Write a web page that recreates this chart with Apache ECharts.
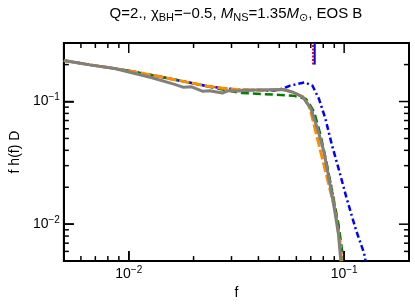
<!DOCTYPE html>
<html><head><meta charset="utf-8">
<script src="https://cdn.jsdelivr.net/npm/echarts/dist/echarts.min.js"></script>
<style>html,body{margin:0;padding:0;background:#fff}#c{width:415px;height:305px}#m{position:absolute;left:-2000px;top:0;width:415px;height:305px}#d{position:absolute;left:60px;top:150px;font:9px monospace;color:#c00;width:340px;word-break:break-all}</style>
</head><body><div id="c"></div><div id="m"></div><div id="d"></div>
<script>
// ---- data ----
const orangeF = [0.005, 0.0066, 0.0081, 0.01, 0.0136, 0.0186, 0.0229, 0.0266, 0.032, 0.0425, 0.052, 0.058, 0.0643, 0.0686, 0.0701, 0.0738, 0.0791, 0.0848, 0.0908, 0.0956, 0.0972];
const orangeV = [0.216, 0.199, 0.189, 0.178, 0.161, 0.144, 0.134, 0.129, 0.125, 0.1235, 0.125, 0.119, 0.109, 0.0929, 0.0822, 0.0568, 0.0347, 0.0212, 0.013, 0.0070, 0.0050];

const redF = [0.005, 0.0066, 0.0081, 0.01, 0.0136, 0.0186, 0.0229, 0.0266, 0.032, 0.0425, 0.052, 0.058, 0.0643, 0.0713, 0.0791, 0.0877, 0.0943, 0.0983];
const redV = [0.216, 0.199, 0.189, 0.178, 0.161, 0.144, 0.134, 0.129, 0.125, 0.1235, 0.125, 0.119, 0.109, 0.0827, 0.0444, 0.0199, 0.0095, 0.0050];

const greenF = [0.005, 0.0066, 0.0081, 0.01, 0.0136, 0.0186, 0.0229, 0.0254, 0.0334, 0.0472, 0.058, 0.0665, 0.0689, 0.0726, 0.0777, 0.0832, 0.0877, 0.094, 0.098, 0.0993];
const greenV = [0.216, 0.199, 0.189, 0.178, 0.161, 0.144, 0.134, 0.128, 0.1174, 0.1138, 0.1117, 0.1051, 0.0958, 0.0822, 0.0533, 0.0306, 0.0187, 0.0101, 0.0060, 0.0050];

const blueF = [0.005, 0.0066, 0.0081, 0.01, 0.0136, 0.0186, 0.0229, 0.0266, 0.032, 0.0425, 0.0472, 0.0523, 0.0562, 0.0655, 0.0713, 0.0764, 0.0818, 0.0877, 0.094, 0.1024, 0.1135, 0.1237, 0.1258];
const blueV = [0.216, 0.199, 0.189, 0.178, 0.161, 0.144, 0.134, 0.129, 0.125, 0.1235, 0.1225, 0.128, 0.1349, 0.1431, 0.1344, 0.1051, 0.0726, 0.0444, 0.0288, 0.01656, 0.00895, 0.00581, 0.0050];

const grayF = [0.005, 0.0066, 0.0086, 0.01, 0.0127, 0.0162, 0.018, 0.0196, 0.0221, 0.0237, 0.0272, 0.0291, 0.0323, 0.0384, 0.0523, 0.058, 0.0643, 0.0701, 0.0751, 0.0805, 0.0848, 0.0893, 0.094, 0.0965];
const grayV = [0.216, 0.199, 0.186, 0.174, 0.157, 0.1387, 0.1305, 0.1319, 0.1212, 0.1225, 0.1174, 0.1225, 0.1218, 0.1241, 0.1253, 0.119, 0.1085, 0.0874, 0.0604, 0.0393, 0.024, 0.0146, 0.0084, 0.0050];

// short vertical markers at the top
const markerRedF = [0.0717, 0.0717];
const markerBlueF = [0.0730, 0.0730];
const markerV = [0.2, 0.3];

// axes
const xRange = [0.005, 0.2];
const yRange = [0.005, 0.3];
const xMajorTicks = [0.01, 0.1];
const yMajorTicks = [0.01, 0.1];
const xMinorTicks = [0.006, 0.007, 0.008, 0.009, 0.02, 0.03, 0.04, 0.05, 0.06, 0.07, 0.08, 0.09];
const yMinorTicks = [0.006, 0.007, 0.008, 0.009, 0.02, 0.03, 0.04, 0.05, 0.06, 0.07, 0.08, 0.09, 0.2];

const titleText = 'Q=2., χ{sub|BH}=−0.5, {it|M}{sub|NS}=1.35{it|M}{sub|⊙}, EOS B';
const xName = 'f';
const yName = 'f h(f) D';

// ---- chart ----
const dbg = m => { const d = document.getElementById('d'); if (d.textContent.length < 600) d.textContent += m + ' | '; };
window.onerror = (m) => dbg('ERR ' + m);
try {
const FONT = '"Liberation Sans", Arial, "DejaVu Sans", sans-serif';
const zip = (a, b) => a.map((v, i) => [v, b[i]]);
const powLabel = v => {
  const e = Math.log10(v), r = Math.round(e);
  if (Math.abs(e - r) > 1e-6) return '';
  return '10{sup|' + (r < 0 ? '−' : '') + Math.abs(r) + '}';
};
const supRich = { sup: { fontSize: 10, fontFamily: FONT, color: '#000', padding: [0, 0, 8, 0] } };

function lineSeries(f, v, color, width, type) {
  return { type: 'line', data: zip(f, v), showSymbol: false, lineStyle: { color, width, type } };
}

const axisCommon = {
  type: 'log', logBase: 10,
  axisLine: { show: true, onZero: false, lineStyle: { color: '#000', width: 2 } },
  axisTick: { show: true, inside: true, length: 10, lineStyle: { color: '#000', width: 1.5 } },
  splitLine: { show: false }, minorTick: { show: false }, minorSplitLine: { show: false }
};
const labelCommon = { show: true, fontSize: 14, color: '#000', fontFamily: FONT, formatter: powLabel, rich: supRich, showMinLabel: false, showMaxLabel: false };

const gridOpt = { left: 52, right: 6, top: 43, bottom: 41, show: true, borderColor: '#000', borderWidth: 2 };
const xAxisOpt = Object.assign({}, axisCommon, {
  position: 'bottom', min: xRange[0], max: xRange[1],
  name: xName, nameLocation: 'middle', nameGap: 20,
  nameTextStyle: { fontSize: 14, color: '#000', fontFamily: FONT },
  axisLabel: Object.assign({ margin: 4 }, labelCommon)
});
const yAxisOpt = Object.assign({}, axisCommon, {
  position: 'left', min: yRange[0], max: yRange[1],
  name: yName, nameLocation: 'middle', nameGap: 34, nameRotate: 90,
  nameTextStyle: { fontSize: 14, color: '#000', fontFamily: FONT },
  axisLabel: Object.assign({ margin: 4 }, labelCommon)
});

// measuring pass: same grid/axes, used only to turn tick lengths into axis values
const meas = echarts.init(document.getElementById('m'));
meas.setOption({ animation: false, grid: gridOpt, xAxis: xAxisOpt, yAxis: yAxisOpt, series: [lineSeries(orangeF, orangeV, '#000', 1, 'solid')] });
const toPx = (a, b) => meas.convertToPixel({ gridIndex: 0 }, [a, b]);
const toVal = (px, py) => meas.convertFromPixel({ gridIndex: 0 }, [px, py]);
const lo = toPx(xRange[0], yRange[0]);
const hi = toPx(xRange[1], yRange[1]);

const tickSeries = [];
const tickLine = (pts) => tickSeries.push({ type: 'line', data: pts, showSymbol: false, silent: true, z: 20, clip: false, lineStyle: { color: '#000', width: 1.5, type: 'solid' } });
const addX = (list, len) => list.forEach(t => {
  const x = toPx(t, yRange[0])[0];
  tickLine([[t, yRange[0]], [t, toVal(x, lo[1] - len)[1]]]);
  tickLine([[t, yRange[1]], [t, toVal(x, hi[1] + len)[1]]]);
});
const addY = (list, len) => list.forEach(t => {
  const y = toPx(xRange[0], t)[1];
  tickLine([[xRange[0], t], [toVal(lo[0] + len, y)[0], t]]);
  tickLine([[xRange[1], t], [toVal(hi[0] - len, y)[0], t]]);
});
addX(xMajorTicks, 10); addX(xMinorTicks, 5);
addY(yMajorTicks, 10); addY(yMinorTicks, 5);
meas.dispose();

const chart = echarts.init(document.getElementById('c'));
chart.setOption({
  animation: false,
  title: {
    text: titleText, left: 231, top: 0, textAlign: 'center',
    textStyle: {
      fontSize: 15, fontWeight: 'normal', color: '#000', fontFamily: FONT,
      rich: {
        sub: { fontSize: 11, fontFamily: FONT, color: '#000', padding: [7, 0, 0, 0] },
        it: { fontSize: 15, fontStyle: 'italic', fontFamily: FONT, color: '#000' }
      }
    }
  },
  grid: gridOpt,
  xAxis: xAxisOpt,
  yAxis: yAxisOpt,
  series: [
    lineSeries(markerRedF, markerV, '#ff0000', 2, [2, 1.5]),
    lineSeries(markerBlueF, markerV, '#0000ff', 2, 'solid'),
    lineSeries(redF, redV, '#ff0000', 2, [2, 2]),
    lineSeries(blueF, blueV, '#0000ff', 2.5, [6, 3, 2, 3]),
    lineSeries(greenF, greenV, '#008000', 2.5, [8, 4]),
    lineSeries(orangeF, orangeV, '#ff8c00', 3, [10, 3]),
    lineSeries(grayF, grayV, '#808080', 3, 'solid')
  ].concat(tickSeries)
});
} catch (e) { dbg('CATCH ' + e.message); }
</script>
</body></html>
